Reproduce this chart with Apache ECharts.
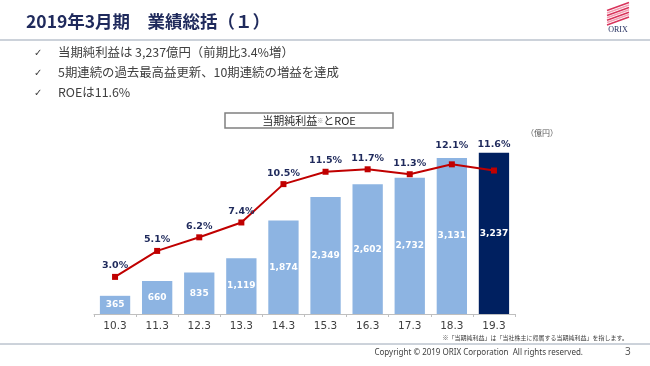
<!DOCTYPE html>
<html><head><meta charset="utf-8">
<script src="https://cdn.jsdelivr.net/npm/echarts@6/dist/echarts.min.js"></script>
<style>html,body{margin:0;padding:0;background:#fff}#c{width:650px;height:366px}</style>
</head><body><div id="c"></div>
<script>
const categories = ['10.3','11.3','12.3','13.3','14.3','15.3','16.3','17.3','18.3','19.3'];
const netIncome = [365, 660, 835, 1119, 1874, 2349, 2602, 2732, 3131, 3237];
const roe = [3.0, 5.1, 6.2, 7.4, 10.5, 11.5, 11.7, 11.3, 12.1, 11.6];
const bullets = ['当期純利益は 3,237億円（前期比3.4%増）', '5期連続の過去最高益更新、10期連続の増益を達成', 'ROEは11.6%'];

const JP = '"Noto Sans CJK JP", "Noto Sans", sans-serif';
const chart = echarts.init(document.getElementById('c'));

const barData = netIncome.map((v, i) => ({
  value: v,
  itemStyle: { color: i === netIncome.length - 1 ? '#002060' : '#8db4e2' }
}));
const lineData = roe.map((v, i) => {
  const d = { value: v };
  if (i === 8) d.label = { distance: 11 };
  if (i === 9) d.label = { distance: 18 };
  return d;
});

const g = [];
g.push({ type: 'text', left: 26, top: 13, style: { text: '2019年3月期　業績総括（１）', font: 'bold 17.5px ' + JP, fill: '#1f2a5c' } });
g.push({ type: 'line', shape: { x1: 0, y1: 40, x2: 650, y2: 40 }, style: { stroke: '#9aa6b6', lineWidth: 1.2 } });
bullets.forEach((t, i) => {
  g.push({ type: 'text', left: 34, top: 48 + i * 20, style: { text: '✓', font: '10px "DejaVu Sans"', fill: '#404040' } });
  g.push({ type: 'text', left: 58, top: 46.5 + i * 20, style: { text: t, font: '12.4px ' + JP, fill: '#404040' } });
});
g.push({ type: 'rect', shape: { x: 225, y: 113, width: 168, height: 15 }, style: { fill: '#fff', stroke: '#808080', lineWidth: 1.5 } });
g.push({ type: 'text', x: 309, y: 120.5, style: { rich: { a: { font: '11px ' + JP, fill: '#262626' }, b: { font: '6px ' + JP, fill: '#808080' } }, text: '{a|当期純利益}{b|※}{a|とROE}', align: 'center', verticalAlign: 'middle' } });
g.push({ type: 'text', left: 526, top: 129, style: { text: '（億円）', font: '8px ' + JP, fill: '#595959' } });
g.push({ type: 'text', right: 22, top: 335, style: { text: '※「当期純利益」は「当社株主に帰属する当期純利益」を指します。', font: '6px ' + JP, fill: '#404040' } });
g.push({ type: 'line', shape: { x1: 0, y1: 344, x2: 650, y2: 344 }, style: { stroke: '#9aa6b6', lineWidth: 1 } });
g.push({ type: 'text', right: 67, top: 349, style: { text: 'Copyright © 2019 ORIX Corporation  All rights reserved.', font: '8px "Noto Sans"', fill: '#404040' } });
g.push({ type: 'text', left: 625, top: 347, style: { text: '3', font: '10px "Noto Sans"', fill: '#595959' } });
// logo
for (let k = 0; k < 7; k++) {
  g.push({ type: 'line', shape: { x1: 607, y1: 22 - k * 2.4 + 3, x2: 629, y2: 17 - k * 2.4 }, style: { stroke: k % 2 ? '#f2a0b4' : '#d8325a', lineWidth: 1.6 } });
}
g.push({ type: 'text', x: 618, y: 30, style: { text: 'ORIX', font: '8px "Liberation Serif"', fill: '#1f2a5c', align: 'center', verticalAlign: 'middle' } });

chart.setOption({
  animation: false,
  grid: { left: 94, right: 135, top: 139.6, bottom: 52 },
  xAxis: {
    type: 'category', data: categories, boundaryGap: true,
    axisLine: { lineStyle: { color: '#bfbfbf' } },
    axisTick: { show: true, length: 3, lineStyle: { color: '#bfbfbf' } },
    axisLabel: { color: '#404040', fontSize: 10.5, fontFamily: '"DejaVu Sans"', margin: 7 }
  },
  yAxis: [
    { type: 'value', min: 0, max: 3500, show: false, splitLine: { show: false } },
    { type: 'value', min: 0, max: 14.1, show: false, splitLine: { show: false } }
  ],
  series: [
    { type: 'bar', data: barData, barCategoryGap: '28%', yAxisIndex: 0,
      label: { show: true, position: 'inside', color: '#fff', fontWeight: 'bold', fontSize: 9, fontFamily: '"DejaVu Sans"',
        formatter: p => p.value.toLocaleString('en-US') } },
    { type: 'line', data: lineData, yAxisIndex: 1, symbol: 'rect', symbolSize: 6,
      lineStyle: { color: '#c00000', width: 2 }, itemStyle: { color: '#c00000' },
      label: { show: true, position: 'top', distance: 3, color: '#1f2a5c', fontWeight: 'bold', fontSize: 9.5, fontFamily: '"DejaVu Sans"',
        formatter: p => p.value.toFixed(1) + '%' } }
  ],
  graphic: g
});
</script></body></html>
